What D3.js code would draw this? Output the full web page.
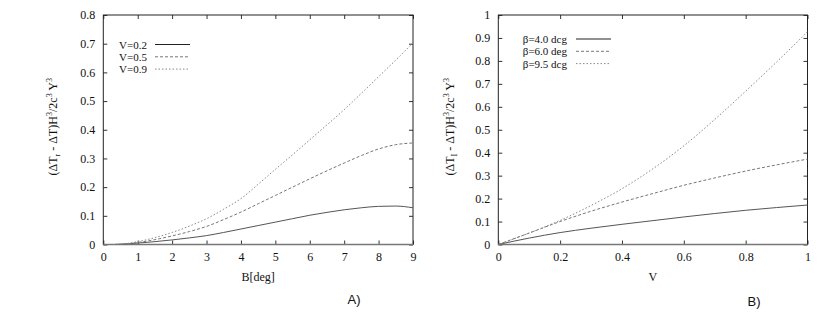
<!DOCTYPE html>
<html>
<head>
<meta charset="utf-8">
<script src="https://cdn.jsdelivr.net/npm/d3@7"></script>
<style>
  body { margin: 0; background: #fff; }
  svg text { font-family: "Liberation Serif", "Times New Roman", "DejaVu Serif", serif !important; fill: #111; }
  svg text.tag { font-family: "Liberation Sans", Arial, sans-serif !important; }
</style>
</head>
<body>
<div id="chart"></div>
<script>
// panel A: B[deg] on x
const betaDeg = [0.3, 0.5, 1, 1.5, 2, 2.5, 3, 3.5, 4, 4.5, 5, 5.5, 6, 6.5, 7, 7.5, 8, 8.5, 9];
const v02 = [0, 0.001, 0.005, 0.01, 0.016, 0.023, 0.031, 0.042, 0.054, 0.066, 0.078, 0.09, 0.102, 0.112, 0.121, 0.128, 0.133, 0.134, 0.128];
const v05 = [0, 0.001, 0.007, 0.017, 0.03, 0.045, 0.063, 0.087, 0.113, 0.142, 0.171, 0.2, 0.229, 0.257, 0.284, 0.31, 0.333, 0.348, 0.354];
const v09 = [0, 0.001, 0.01, 0.024, 0.042, 0.064, 0.09, 0.123, 0.16, 0.21, 0.262, 0.313, 0.365, 0.417, 0.47, 0.527, 0.585, 0.643, 0.703];
const seriesA = ["V=0.2", "V=0.5", "V=0.9"];
const xTicksA = [0, 1, 2, 3, 4, 5, 6, 7, 8, 9];
const yTicksA = [0, 0.1, 0.2, 0.3, 0.4, 0.5, 0.6, 0.7, 0.8];

// panel B: V on x
const vVals = [0, 0.1, 0.2, 0.3, 0.4, 0.5, 0.6, 0.7, 0.8, 0.9, 1.0];
const b40 = [0, 0.028, 0.052, 0.071, 0.088, 0.104, 0.12, 0.135, 0.149, 0.161, 0.172];
const b60 = [0, 0.05, 0.1, 0.145, 0.185, 0.222, 0.258, 0.29, 0.32, 0.347, 0.372];
const b95 = [0, 0.05, 0.105, 0.17, 0.243, 0.33, 0.43, 0.545, 0.668, 0.795, 0.927];
const seriesB = ["\u03b2=4.0 dcg", "\u03b2=6.0 deg", "\u03b2=9.5 dcg"];
const xTicksB = [0, 0.2, 0.4, 0.6, 0.8, 1];
const yTicksB = [0, 0.1, 0.2, 0.3, 0.4, 0.5, 0.6, 0.7, 0.8, 0.9, 1];

const styles = [
  { dash: null, color: "#555" },
  { dash: "3,2", color: "#777" },
  { dash: "1.5,2", color: "#888" }
];

let svg = d3.select("#chart").append("svg")
    .attr("width", 830)
    .attr("height", 322);

drawPanel({
    left: 103.3, right: 413, top: 15, bottom: 244.5,
    xDomain: [0, 9], yDomain: [0, 0.8],
    xTicks: xTicksA, yTicks: yTicksA,
    xs: betaDeg, ys: [v02, v05, v09], names: seriesA,
    xLabel: "B[deg]", sub: "r", tag: "A)", tagX: 354, tagY: 304,
    yLabelX: 57,
    legend: { textEnd: 147, lineX1: 155, lineX2: 190, y0: 44.5, dy: 12.3 }
});

drawPanel({
    left: 498.3, right: 807.5, top: 15, bottom: 244.5,
    xDomain: [0, 1], yDomain: [0, 1],
    xTicks: xTicksB, yTicks: yTicksB,
    xs: vVals, ys: [b40, b60, b95], names: seriesB,
    xLabel: "V", sub: "I", tag: "B)", tagX: 754, tagY: 306,
    yLabelX: 454,
    legend: { textEnd: 567, lineX1: 576, lineX2: 611, y0: 39, dy: 12.3 }
});

function drawPanel(p) {
    let g = svg.append("g");

    let x = d3.scaleLinear().domain(p.xDomain).range([p.left, p.right]);
    let y = d3.scaleLinear().domain(p.yDomain).range([p.bottom, p.top]);

    // ticks on all four sides, pointing inward
    g.append("g")
        .attr("transform", "translate(0," + p.bottom + ")")
        .call(d3.axisBottom(x).tickValues(p.xTicks).tickSize(-4).tickPadding(8).tickFormat(d3.format("")))
        .call(ax => ax.select(".domain").remove());
    g.append("g")
        .attr("transform", "translate(0," + p.top + ")")
        .call(d3.axisTop(x).tickValues(p.xTicks).tickSize(-4).tickFormat(""))
        .call(ax => ax.select(".domain").remove());
    g.append("g")
        .attr("transform", "translate(" + p.left + ",0)")
        .call(d3.axisLeft(y).tickValues(p.yTicks).tickSize(-4).tickPadding(8).tickFormat(d3.format("")))
        .call(ax => ax.select(".domain").remove());
    g.append("g")
        .attr("transform", "translate(" + p.right + ",0)")
        .call(d3.axisRight(y).tickValues(p.yTicks).tickSize(-4).tickFormat(""))
        .call(ax => ax.select(".domain").remove());

    g.selectAll("g").attr("font-family", null).attr("font-size", null);
    g.selectAll(".tick line").attr("stroke", "#333");
    g.selectAll(".tick text")
        .style("font-size", "12px")
        .attr("fill", "#111");

    // frame
    g.append("rect")
        .attr("x", p.left).attr("y", p.top)
        .attr("width", p.right - p.left).attr("height", p.bottom - p.top)
        .attr("fill", "none").attr("stroke", "#222").attr("stroke-width", 1);
    g.append("line")
        .attr("x1", p.left).attr("x2", p.right)
        .attr("y1", p.bottom).attr("y2", p.bottom)
        .attr("stroke", "#777").attr("stroke-width", 1.6);

    // curves
    let line = d3.line()
        .x(d => x(d[0]))
        .y(d => y(d[1]))
        .curve(d3.curveMonotoneX);

    p.ys.forEach((vals, i) => {
        g.append("path")
            .datum(p.xs.map((xv, j) => [xv, vals[j]]))
            .attr("fill", "none")
            .attr("stroke", styles[i].color)
            .attr("stroke-width", 1)
            .attr("stroke-dasharray", styles[i].dash)
            .attr("d", line);

        // legend entry
        let ly = p.legend.y0 + i * p.legend.dy;
        g.append("text")
            .attr("x", p.legend.textEnd).attr("y", ly + 4)
            .attr("text-anchor", "end")
            .style("font-size", "11px")
            .text(p.names[i]);
        g.append("line")
            .attr("x1", p.legend.lineX1).attr("x2", p.legend.lineX2)
            .attr("y1", ly).attr("y2", ly)
            .attr("stroke", i == 0 ? "#222" : styles[i].color)
            .attr("stroke-width", 1)
            .attr("stroke-dasharray", styles[i].dash);
    });

    // x label
    g.append("text")
        .attr("x", (p.left + p.right) / 2).attr("y", 281)
        .attr("text-anchor", "middle")
        .style("font-size", "12px")
        .text(p.xLabel);

    // y label
    let yl = g.append("text")
        .attr("transform", "translate(" + p.yLabelX + "," + ((p.top + p.bottom) / 2 - 3) + ") rotate(-90)")
        .attr("text-anchor", "middle")
        .style("font-size", "12px");
    yl.append("tspan").text("(\u0394T");
    yl.append("tspan").attr("dy", 3).style("font-size", "8px").text(p.sub);
    yl.append("tspan").attr("dy", -3).text(" - \u0394T)H");
    yl.append("tspan").attr("dy", -5).style("font-size", "8px").text("3");
    yl.append("tspan").attr("dy", 5).text("/2c");
    yl.append("tspan").attr("dy", -5).style("font-size", "8px").text("3");
    yl.append("tspan").attr("dy", 5).text(" Y");
    yl.append("tspan").attr("dy", -5).style("font-size", "8px").text("3");

    // panel tag
    g.append("text")
        .attr("class", "tag")
        .attr("x", p.tagX).attr("y", p.tagY)
        .attr("text-anchor", "middle")
        .style("font-size", "13px")
        .text(p.tag);
}
</script>
</body>
</html>
